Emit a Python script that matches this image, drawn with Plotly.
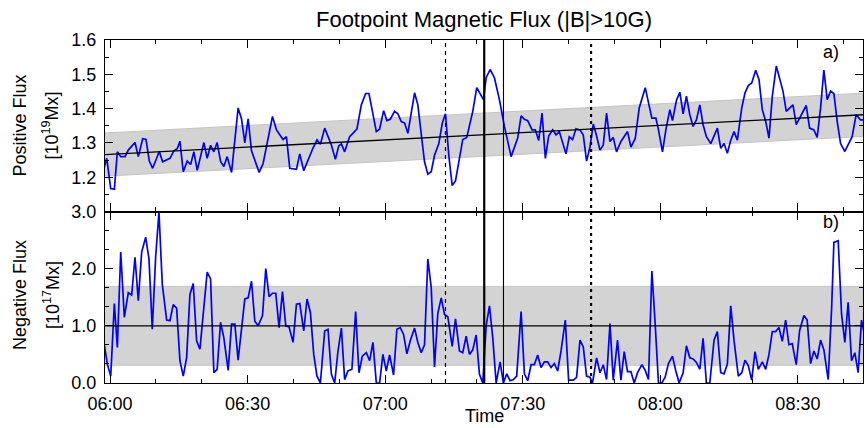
import pandas as pd
import plotly.graph_objects as go
from plotly.subplots import make_subplots

# ---------------- data ----------------
# minutes after 06:00 and positive flux [1e19 Mx]
pos_t = [-1.31, -0.72, 0.15, 0.94, 1.59, 2.33, 3.27, 3.98, 5.44, 6.16, 7.12, 7.84, 8.56, 9.30, 10.73, 11.47,
         13.06, 13.93, 14.65, 15.24, 15.96, 16.83, 17.57, 18.29, 19.01, 20.47, 21.18, 21.92, 22.64, 23.36,
         24.10, 24.82, 25.54, 26.50, 27.93, 28.67, 29.39, 30.11, 30.85, 32.51, 33.38, 34.47, 35.42, 36.29,
         37.73, 38.47, 39.19, 40.65, 41.37, 42.24, 42.83, 44.26, 45.13, 45.87, 46.81, 47.53, 48.27, 49.14,
         49.86, 50.45, 51.16, 52.25, 52.97, 53.84, 54.80, 55.74, 56.46, 58.07, 58.78, 59.66, 60.37, 61.11,
         62.05, 62.77, 63.51, 64.23, 64.95, 66.41, 67.12, 67.86, 68.58, 69.30, 70.04, 70.76, 71.70, 72.44,
         73.15, 73.87, 74.61, 75.33, 76.20, 76.92, 77.79, 79.10, 79.97, 81.43, 82.02, 82.89, 83.82, 84.91,
         86.00, 87.46, 88.90, 89.64, 90.36, 91.08, 92.03, 92.75, 93.47, 94.21, 94.93, 95.65, 96.52, 97.26,
         97.98, 98.85, 99.43, 100.15, 100.87, 101.61, 102.48, 103.20, 103.92, 104.66, 105.38, 106.10, 106.84,
         107.56, 108.28, 109.02, 109.73, 110.45, 111.41, 112.85, 113.59, 114.53, 115.40, 116.71, 118.16,
         119.03, 119.60, 120.47, 121.21, 122.08, 122.65, 123.52, 124.26, 124.97, 125.69, 126.43, 127.15,
         127.87, 128.61, 129.33, 130.05, 131.00, 131.72, 132.44, 133.18, 133.90, 134.62, 135.36, 136.08,
         136.80, 137.76, 138.47, 139.19, 139.93, 140.80, 141.52, 142.24, 142.98, 143.70, 144.42, 145.29,
         146.03, 146.75, 147.47, 148.21, 148.93, 149.64, 150.38, 151.10, 151.82, 152.56, 153.49, 154.21,
         154.95, 155.67, 156.39, 157.13, 157.85, 158.57, 159.31, 160.24, 161.11, 161.83, 162.70, 163.65,
         164.38]
pos_flux = [1.226, 1.255, 1.167, 1.165, 1.274, 1.260, 1.260, 1.279, 1.301, 1.260, 1.312, 1.310, 1.247, 1.226,
            1.275, 1.245, 1.255, 1.277, 1.283, 1.305, 1.216, 1.247, 1.237, 1.274, 1.220, 1.301, 1.255, 1.293,
            1.274, 1.301, 1.246, 1.231, 1.260, 1.214, 1.402, 1.370, 1.300, 1.370, 1.277, 1.214, 1.240, 1.310,
            1.377, 1.338, 1.310, 1.318, 1.226, 1.223, 1.268, 1.219, 1.240, 1.285, 1.309, 1.296, 1.343, 1.317,
            1.294, 1.252, 1.291, 1.297, 1.274, 1.318, 1.328, 1.340, 1.411, 1.444, 1.444, 1.333, 1.340, 1.394,
            1.365, 1.369, 1.392, 1.385, 1.362, 1.358, 1.328, 1.446, 1.411, 1.328, 1.245, 1.209, 1.216, 1.264,
            1.298, 1.357, 1.385, 1.264, 1.176, 1.189, 1.250, 1.310, 1.316, 1.392, 1.461, 1.426, 1.490, 1.514,
            1.490, 1.426, 1.348, 1.260, 1.314, 1.379, 1.369, 1.365, 1.338, 1.338, 1.307, 1.387, 1.255, 1.320,
            1.338, 1.323, 1.333, 1.298, 1.268, 1.318, 1.310, 1.341, 1.338, 1.323, 1.247, 1.288, 1.355, 1.320,
            1.279, 1.294, 1.387, 1.304, 1.316, 1.274, 1.304, 1.333, 1.288, 1.313, 1.402, 1.461, 1.372, 1.372,
            1.338, 1.274, 1.338, 1.397, 1.365, 1.424, 1.448, 1.385, 1.436, 1.382, 1.348, 1.367, 1.411, 1.353,
            1.318, 1.298, 1.318, 1.343, 1.284, 1.298, 1.270, 1.308, 1.333, 1.308, 1.402, 1.446, 1.467, 1.475,
            1.512, 1.485, 1.397, 1.363, 1.314, 1.436, 1.524, 1.490, 1.451, 1.392, 1.402, 1.411, 1.353, 1.372,
            1.389, 1.409, 1.343, 1.338, 1.316, 1.402, 1.512, 1.426, 1.451, 1.444, 1.363, 1.298, 1.275, 1.298,
            1.318, 1.382, 1.367, 1.367]

# minutes after 06:00 and negative flux [1e17 Mx]
neg_t = [-1.24, -0.59, 0.15, 0.94, 1.59, 2.33, 3.11, 3.98, 4.72, 5.44, 6.16, 6.90, 7.77, 8.49, 9.21, 9.95,
         10.67, 11.39, 12.34, 13.06, 13.78, 14.52, 15.24, 15.96, 16.70, 17.42, 18.14, 18.88, 19.60, 21.18,
         21.92, 22.64, 23.36, 24.10, 24.82, 25.76, 26.50, 27.22, 27.93, 29.39, 30.11, 30.85, 31.57, 32.29,
         33.25, 33.96, 34.68, 35.42, 36.14, 36.86, 37.60, 38.32, 39.04, 39.91, 40.65, 41.37, 42.24, 42.96,
         43.70, 44.42, 45.13, 45.87, 46.81, 47.53, 48.27, 48.99, 49.71, 50.45, 51.16, 51.88, 52.75, 53.56,
         54.28, 55.02, 55.89, 56.61, 57.33, 58.07, 58.78, 59.50, 60.24, 60.96, 61.83, 62.55, 63.29, 64.01,
         64.73, 65.47, 66.41, 67.12, 67.86, 68.58, 69.30, 70.04, 70.76, 71.48, 72.22, 72.94, 73.66, 74.61,
         75.33, 76.20, 76.92, 77.66, 78.38, 79.10, 79.84, 80.56, 81.28, 82.02, 82.74, 83.46, 84.20, 85.06,
         85.78, 86.50, 87.24, 87.96, 88.68, 89.64, 90.36, 91.08, 91.82, 92.53, 93.25, 93.99, 94.71, 95.43,
         96.17, 96.89, 97.61, 98.35, 99.28, 100.00, 101.02, 101.74, 102.48, 103.20, 103.92, 104.66, 105.22,
         106.10, 106.84, 107.56, 108.28, 109.02, 109.73, 110.67, 111.41, 112.13, 112.85, 113.59, 114.31,
         115.03, 115.99, 116.71, 117.42, 118.16, 118.88, 119.60, 120.33, 121.05, 121.77, 122.65, 123.38,
         124.10, 124.97, 125.69, 126.43, 127.15, 127.87, 128.61, 129.33, 130.05, 130.79, 131.72, 132.44,
         133.18, 133.90, 134.62, 135.36, 136.08, 137.01, 137.76, 138.47, 139.19, 139.93, 140.65, 141.37,
         142.24, 142.98, 143.70, 144.42, 145.15, 145.87, 146.59, 147.33, 148.05, 148.77, 149.64, 150.38,
         151.32, 152.03, 152.77, 153.49, 154.21, 154.95, 155.67, 156.61, 157.35, 157.85, 158.79, 159.52,
         160.24, 160.96, 161.70, 162.42, 163.14, 163.87, 164.38]
neg_flux = [0.67, 0.33, 0.12, 1.39, 0.62, 2.29, 1.15, 1.58, 1.54, 2.20, 1.44, 2.29, 2.55, 2.17, 0.94, 2.21,
            2.99, 1.73, 1.10, 1.09, 1.37, 1.31, 0.39, 0.12, 0.44, 1.55, 1.74, 0.74, 0.59, 1.94, 1.82, 0.18,
            0.24, 1.06, 0.79, 0.22, 1.03, 1.03, 0.40, 1.47, 1.49, 1.78, 1.08, 1.00, 1.18, 2.00, 1.51, 1.57,
            1.57, 0.97, 1.60, 1.00, 0.98, 0.71, 1.38, 1.39, 0.91, 1.47, 1.23, 0.50, 0.12, 0.00, 0.91, 0.94,
            0.15, 0.00, 0.56, 0.96, 0.06, 0.21, 0.24, 1.25, 0.18, 0.47, 0.53, 0.39, 0.71, 0.00, 0.00, 0.50,
            0.21, 0.49, 0.14, 0.94, 0.97, 0.85, 0.51, 0.74, 0.96, 0.71, 0.53, 0.67, 2.17, 1.67, 0.28, 1.22,
            1.49, 1.20, 1.16, 0.64, 1.12, 0.56, 0.53, 0.82, 0.50, 0.58, 0.84, 0.15, 0.00, 1.00, 1.35, 0.79,
            0.00, 0.37, 0.00, 0.16, 0.04, 0.06, 0.12, 1.25, 0.16, 0.04, 0.32, 0.32, 0.49, 0.27, 0.37, 0.37,
            0.27, 0.34, 0.21, 0.56, 1.10, 0.05, 0.05, 0.10, 0.75, 0.63, 0.12, 0.10, 0.00, 0.44, 0.18, 0.32,
            0.06, 1.04, 0.05, 0.75, 0.05, 0.55, 0.20, 0.20, 0.00, 0.18, 0.32, 0.22, 0.06, 1.96, 1.03, 0.00,
            0.00, 0.10, 0.34, 0.47, 0.21, 0.00, 0.18, 0.65, 0.44, 0.42, 0.36, 0.24, 0.78, 0.00, 0.00, 0.75,
            0.90, 0.18, 0.16, 0.33, 1.35, 0.74, 0.12, 0.18, 0.40, 0.30, 0.05, 0.55, 0.24, 0.37, 0.24, 0.50,
            0.90, 0.90, 0.97, 0.73, 1.10, 0.67, 0.69, 0.32, 0.92, 1.18, 1.10, 0.34, 0.56, 0.42, 0.75, 0.58,
            0.06, 1.29, 2.46, 2.49, 1.21, 0.71, 1.41, 0.39, 0.53, 0.18, 1.10, 0.90]

# linear fit of positive flux (value at start / end of the window) and band half-width
time_window = [-1.1, 164.2]          # minutes after 06:00 shown on the axis
pos_fit = [1.266, 1.382]
pos_band = 0.063
# negative flux mean and standard deviation
neg_mean = 1.0
neg_std = 0.69

# event times (minutes after 06:00)
dashed_events = [73.15]
thick_events = [81.6]
thin_events = [85.8]
dotted_events = [104.9]

pos_ticks = [1.2, 1.3, 1.4, 1.5, 1.6]
neg_ticks = [0.0, 1.0, 2.0, 3.0]

# ---------------- build ----------------
base = pd.Timestamp("2011-02-15 06:00:00")


def tt(m):
    return base + pd.to_timedelta(m, unit="m")


pos_x = [tt(m) for m in pos_t]
neg_x = [tt(m) for m in neg_t]
w0, w1 = tt(time_window[0]), tt(time_window[1])

fig = make_subplots(rows=2, cols=1, shared_xaxes=True, vertical_spacing=0)

BAND = "rgb(211,211,211)"
BLUE = "rgb(0,0,255)"
FONT = "Liberation Sans, Arial, sans-serif"

# top panel
fig.add_trace(go.Scatter(x=[w0, w1, w1, w0],
                         y=[pos_fit[0] + pos_band, pos_fit[1] + pos_band,
                            pos_fit[1] - pos_band, pos_fit[0] - pos_band],
                         fill="toself", fillcolor=BAND, mode="lines",
                         line=dict(color="rgb(196,196,196)", width=1), hoverinfo="skip"),
              row=1, col=1)
fig.add_trace(go.Scatter(x=pos_x, y=pos_flux, mode="lines", line=dict(color=BLUE, width=1.7)),
              row=1, col=1)
fig.add_trace(go.Scatter(x=[w0, w1], y=pos_fit, mode="lines", line=dict(color="black", width=1.3)),
              row=1, col=1)

# bottom panel
fig.add_trace(go.Scatter(x=[w0, w1, w1, w0],
                         y=[neg_mean + neg_std, neg_mean + neg_std,
                            neg_mean - neg_std, neg_mean - neg_std],
                         fill="toself", fillcolor=BAND, mode="lines",
                         line=dict(color="rgb(196,196,196)", width=1), hoverinfo="skip"),
              row=2, col=1)
fig.add_trace(go.Scatter(x=neg_x, y=neg_flux, mode="lines", line=dict(color=BLUE, width=1.7)),
              row=2, col=1)
fig.add_trace(go.Scatter(x=[w0, w1], y=[neg_mean, neg_mean], mode="lines",
                         line=dict(color="black", width=1.3)),
              row=2, col=1)

# event lines spanning both panels
for evs, dash, width in [(dashed_events, "4px,4px", 1.2), (thick_events, "solid", 2.2),
                         (thin_events, "solid", 1.1), (dotted_events, "3px,4px", 2.2)]:
    for e in evs:
        fig.add_shape(type="line", xref="x", yref="paper", x0=tt(e), x1=tt(e), y0=0, y1=1,
                      line=dict(color="black", width=width, dash=dash), layer="above")

xcommon = dict(type="date", range=[w0, w1], showline=True, linecolor="black", linewidth=1.3,
               mirror="allticks", ticks="inside", ticklen=8, tickwidth=1.3, tickcolor="black",
               tick0=base, dtick=30 * 60 * 1000, tickformat="%H:%M", showgrid=False, zeroline=False,
               minor=dict(dtick=10 * 60 * 1000, tick0=base, ticks="inside", ticklen=4, tickwidth=1.1,
                          tickcolor="black", showgrid=False),
               tickfont=dict(family=FONT, size=18, color="black"), automargin=False)
fig.update_xaxes(**xcommon)
fig.update_xaxes(showticklabels=False, row=1, col=1)
fig.update_xaxes(showticklabels=True, ticklabelstandoff=4, row=2, col=1)

ycommon = dict(showline=True, linecolor="black", linewidth=1.3, mirror="allticks", ticks="inside",
               ticklen=8, tickwidth=1.3, tickcolor="black", showgrid=False, zeroline=False,
               tickfont=dict(family=FONT, size=18, color="black"), ticklabelstandoff=4,
               automargin=False)
fig.update_yaxes(**ycommon)
fig.update_yaxes(range=[1.1, 1.6], tickvals=pos_ticks, tickformat=".1f",
                 minor=dict(dtick=0.05, tick0=1.1, ticks="inside", ticklen=4, tickwidth=1.1,
                            tickcolor="black"), row=1, col=1)
fig.update_yaxes(range=[0, 3.0], tickvals=neg_ticks, tickformat=".1f",
                 minor=dict(dtick=1 / 3, tick0=0, ticks="inside", ticklen=4, tickwidth=1.1,
                            tickcolor="black"), row=2, col=1)

PLOT_L, PLOT_R, PLOT_T, PLOT_B = 105, 863, 40, 383
W, H = 865, 428
pw, ph = PLOT_R - PLOT_L, PLOT_B - PLOT_T


def px(xp):
    return (xp - PLOT_L) / pw


def py(yp):
    return 1 - (yp - PLOT_T) / ph


txt = dict(family=FONT, size=18, color="black")
ann = [
    dict(text="Positive Flux", x=px(20), y=py(125.5), textangle=-90),
    dict(text="[10<sup>19</sup>Mx]", x=px(51), y=py(125.5), textangle=-90),
    dict(text="Negative Flux", x=px(20), y=py(295), textangle=-90),
    dict(text="[10<sup>17</sup>Mx]", x=px(51), y=py(295), textangle=-90),
    dict(text="a)", x=px(831), y=py(52)),
    dict(text="b)", x=px(831), y=py(222)),
    dict(text="Time", x=0.5, y=py(415.5), borderpad=0),
]
for a in ann:
    fig.add_annotation(xref="paper", yref="paper", xanchor="center", yanchor="middle",
                       showarrow=False, font=txt, **a)

fig.update_layout(
    width=W, height=H, showlegend=False,
    paper_bgcolor="white", plot_bgcolor="white",
    margin=dict(l=PLOT_L, r=W - PLOT_R, t=PLOT_T, b=H - PLOT_B, autoexpand=False),
    title=dict(text="Footpoint Magnetic Flux (|B|>10G)", x=px(484), xref="paper", xanchor="center",
               y=1 - 19 / H, yref="container", yanchor="middle",
               font=dict(family=FONT, size=22, color="black"), automargin=False),
)

fig.write_html("out.html", config={"displayModeBar": False},
               post_script="document.body.style.margin='0';document.body.style.padding='0';"
                           "document.body.style.overflow='hidden';")
